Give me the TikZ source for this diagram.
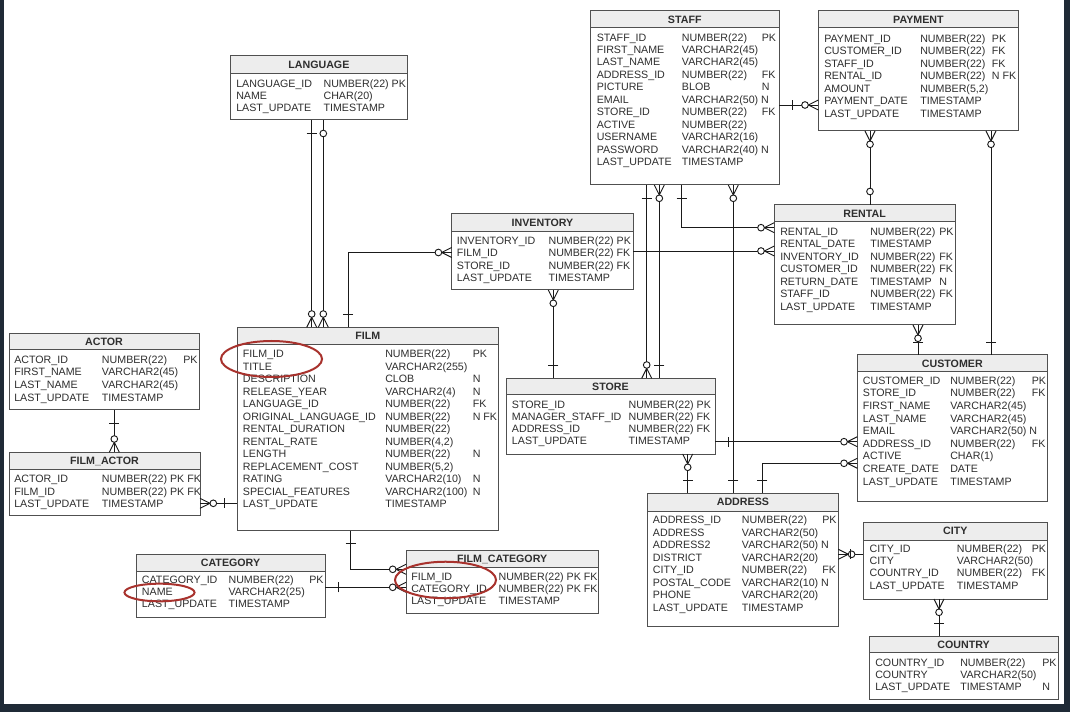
\documentclass[tikz,border=0pt]{standalone}
\usepackage{fontspec}
\setmainfont{Liberation Sans}
\usetikzlibrary{calc}
\definecolor{framec}{HTML}{1F2A36}
\definecolor{txtc}{HTML}{2E2E2E}
\definecolor{boxc}{HTML}{505050}
\definecolor{titlef}{HTML}{EDEDED}
\definecolor{conc}{HTML}{1A1A1A}
\definecolor{markc}{HTML}{A8322D}
\tikzset{
  tbox/.style={draw=boxc, line width=0.75pt, inner sep=0pt, outer sep=0pt, rectangle, anchor=north west},
  ttitle/.style={font=\fontsize{8}{9}\selectfont\bfseries, text=txtc, inner sep=0pt, anchor=base},
  cell/.style={font=\fontsize{8}{9}\selectfont, text=txtc, inner sep=0pt, anchor=base west},
  conn/.style={draw=conc, line width=0.7pt},
  markring/.style={draw=markc, line width=1.5pt},
}
% #1 name, #2 x1, #3 y1, #4 x2, #5 y2, #6 title line y, #7 title, #8 body
\newcommand\ertable[8]{%
  \fill[titlef] (#2,#3) rectangle (#4,#6);
  \begin{scope}\clip (#2,#3) rectangle (#4,#5); #8 \end{scope}
  \draw[draw=boxc, line width=0.75pt] (#2,#6) -- (#4,#6);
  \node[tbox, minimum width={(#4-#2)*0.75pt}, minimum height={(#5-#3)*0.75pt}] (#1) at (#2,#3) {};
  \node[ttitle] (#1-title) at ({(#2+#4)/2},{(#3+#6)/2+3.8}) {#7};
}
\newcommand\ercol[5]{\foreach \celltext [count=\rowi] in {#5}{\node[cell] (#1-\rowi) at (#2,{#3+(\rowi-1)*#4+3.8}) {\celltext};}}
\newcommand\ercolx[5]{\foreach \rowi/\celltext in {#5}{\node[cell] (#1-\rowi) at (#2,{#3+(\rowi-1)*#4+3.8}) {\celltext};}}
\newcommand\crowend[2]{\begin{scope}[shift={(#1)}, rotate=#2]
  \draw[conn] (0,5) -- (10,0) -- (0,-5);
  \draw[conn, fill=white] (13.3,0) circle[radius=2.5pt];
\end{scope}}
\newcommand\barend[2]{\begin{scope}[shift={(#1)}, rotate=#2]
  \draw[conn] (13,5) -- (13,-5);
\end{scope}}
\newcommand\circend[2]{\begin{scope}[shift={(#1)}, rotate=#2]
  \draw[conn, fill=white] (13.5,0) circle[radius=2.5pt];
\end{scope}}

\begin{document}
\begin{tikzpicture}[x=0.75pt,y=-0.75pt]
\useasboundingbox (0,0) rectangle (1070,712);
\fill[framec] (0,0) rectangle (1070,712);
\fill[white] (4,0) rectangle (1064,704);

% ---------- tables ----------
\ertable{staff}{590.5}{10.5}{779}{185}{28}{STAFF}{%
 \ercol{staff-a}{596.5}{37.3}{12.44}{STAFF\_ID,FIRST\_NAME,LAST\_NAME,ADDRESS\_ID,PICTURE,EMAIL,STORE\_ID,ACTIVE,USERNAME,PASSWORD,LAST\_UPDATE}
 \ercol{staff-b}{681.7}{37.3}{12.44}{NUMBER(22),VARCHAR2(45),VARCHAR2(45),NUMBER(22),BLOB,VARCHAR2(50) N,NUMBER(22),NUMBER(22),VARCHAR2(16),VARCHAR2(40) N,TIMESTAMP}
 \ercolx{staff-c}{761.5}{37.3}{12.44}{1/PK,4/FK,5/N,7/FK}}

\ertable{payment}{818.3}{11}{1018.5}{131}{28}{PAYMENT}{%
 \ercol{payment-a}{824}{38.3}{12.5}{PAYMENT\_ID,CUSTOMER\_ID,STAFF\_ID,RENTAL\_ID,AMOUNT,PAYMENT\_DATE,LAST\_UPDATE}
 \ercol{payment-b}{920}{38.3}{12.5}{NUMBER(22),NUMBER(22),NUMBER(22),NUMBER(22),{NUMBER(5,2)},TIMESTAMP,TIMESTAMP}
 \ercolx{payment-c}{991.7}{38.3}{12.5}{1/PK,2/FK,3/FK,4/{N FK}}}

\ertable{language}{230}{56}{407.7}{120}{73.3}{LANGUAGE}{%
 \ercol{language-a}{236}{83.3}{12}{LANGUAGE\_ID,NAME,LAST\_UPDATE}
 \ercol{language-b}{323.3}{83.3}{12}{NUMBER(22) PK,CHAR(20),TIMESTAMP}}

\ertable{inventory}{451.7}{214}{633.3}{290}{231.7}{INVENTORY}{%
 \ercol{inventory-a}{456.7}{240.7}{12.3}{INVENTORY\_ID,FILM\_ID,STORE\_ID,LAST\_UPDATE}
 \ercol{inventory-b}{548.3}{240.7}{12.3}{NUMBER(22) PK,NUMBER(22) FK,NUMBER(22) FK,TIMESTAMP}}

\ertable{rental}{774.3}{205}{955}{325}{221.7}{RENTAL}{%
 \ercol{rental-a}{780}{231.7}{12.5}{RENTAL\_ID,RENTAL\_DATE,INVENTORY\_ID,CUSTOMER\_ID,RETURN\_DATE,STAFF\_ID,LAST\_UPDATE}
 \ercol{rental-b}{870}{231.7}{12.5}{NUMBER(22),TIMESTAMP,NUMBER(22),NUMBER(22),TIMESTAMP,NUMBER(22),TIMESTAMP}
 \ercolx{rental-c}{939}{231.7}{12.5}{1/PK,3/FK,4/FK,5/N,6/FK}}

\ertable{film}{237.3}{327.3}{498.3}{530.7}{345}{FILM}{%
 \ercol{film-a}{242.7}{354}{12.5}{FILM\_ID,TITLE,DESCRIPTION,RELEASE\_YEAR,LANGUAGE\_ID,ORIGINAL\_LANGUAGE\_ID,RENTAL\_DURATION,RENTAL\_RATE,LENGTH,REPLACEMENT\_COST,RATING,SPECIAL\_FEATURES,LAST\_UPDATE}
 \ercol{film-b}{385}{354}{12.5}{NUMBER(22),VARCHAR2(255),CLOB,VARCHAR2(4),NUMBER(22),NUMBER(22),NUMBER(22),{NUMBER(4,2)},NUMBER(22),{NUMBER(5,2)},VARCHAR2(10),VARCHAR2(100),TIMESTAMP}
 \ercolx{film-c}{472.5}{354}{12.5}{1/PK,3/N,4/N,5/FK,6/{N FK},9/N,11/N,12/N}}

\ertable{actor}{9}{333.3}{199}{410}{350}{ACTOR}{%
 \ercol{actor-a}{14}{359.3}{12.67}{ACTOR\_ID,FIRST\_NAME,LAST\_NAME,LAST\_UPDATE}
 \ercol{actor-b}{101.7}{359.3}{12.67}{NUMBER(22),VARCHAR2(45),VARCHAR2(45),TIMESTAMP}
 \ercolx{actor-c}{183}{359.3}{12.67}{1/PK}}

\ertable{filmactor}{9}{452.3}{200}{515.7}{469}{FILM\_ACTOR}{%
 \ercol{filmactor-a}{14}{479}{12.2}{ACTOR\_ID,FILM\_ID,LAST\_UPDATE}
 \ercol{filmactor-b}{101.7}{479}{12.2}{NUMBER(22) PK FK,NUMBER(22) PK FK,TIMESTAMP}}

\ertable{store}{506}{378.3}{715}{454}{395}{STORE}{%
 \ercol{store-a}{511.7}{404.3}{12.2}{STORE\_ID,MANAGER\_STAFF\_ID,ADDRESS\_ID,LAST\_UPDATE}
 \ercol{store-b}{628.3}{404.3}{12.2}{NUMBER(22) PK,NUMBER(22) FK,NUMBER(22) FK,TIMESTAMP}}

\ertable{customer}{857.3}{355}{1047.3}{501.7}{371.7}{CUSTOMER}{%
 \ercol{customer-a}{862.7}{380.5}{12.6}{CUSTOMER\_ID,STORE\_ID,FIRST\_NAME,LAST\_NAME,EMAIL,ADDRESS\_ID,ACTIVE,CREATE\_DATE,LAST\_UPDATE}
 \ercol{customer-b}{950}{380.5}{12.6}{NUMBER(22),NUMBER(22),VARCHAR2(45),VARCHAR2(45),VARCHAR2(50) N,NUMBER(22),CHAR(1),DATE,TIMESTAMP}
 \ercolx{customer-c}{1031.5}{380.5}{12.6}{1/PK,2/FK,6/FK}}

\ertable{address}{647.5}{493.3}{838.3}{626.7}{511}{ADDRESS}{%
 \ercol{address-a}{652.7}{520}{12.5}{ADDRESS\_ID,ADDRESS,ADDRESS2,DISTRICT,CITY\_ID,POSTAL\_CODE,PHONE,LAST\_UPDATE}
 \ercol{address-b}{741.7}{520}{12.5}{NUMBER(22),VARCHAR2(50),VARCHAR2(50) N,VARCHAR2(20),NUMBER(22),VARCHAR2(10) N,VARCHAR2(20),TIMESTAMP}
 \ercolx{address-c}{822}{520}{12.5}{1/PK,5/FK}}

\ertable{city}{863.3}{522.3}{1047.3}{599}{540}{CITY}{%
 \ercol{city-a}{869.3}{548.3}{12.3}{CITY\_ID,CITY,COUNTRY\_ID,LAST\_UPDATE}
 \ercol{city-b}{956.7}{548.3}{12.3}{NUMBER(22),VARCHAR2(50),NUMBER(22),TIMESTAMP}
 \ercolx{city-c}{1031.5}{548.3}{12.3}{1/PK,3/FK}}

\ertable{country}{869.3}{636}{1058}{699.3}{652.7}{COUNTRY}{%
 \ercol{country-a}{875}{662.3}{12.2}{COUNTRY\_ID,COUNTRY,LAST\_UPDATE}
 \ercol{country-b}{960}{662.3}{12.2}{NUMBER(22),VARCHAR2(50),TIMESTAMP}
 \ercolx{country-c}{1042}{662.3}{12.2}{1/PK,3/N}}

\ertable{category}{136}{554}{325}{617.3}{571.7}{CATEGORY}{%
 \ercol{category-a}{141.7}{580}{12}{CATEGORY\_ID,NAME,LAST\_UPDATE}
 \ercol{category-b}{228.3}{580}{12}{NUMBER(22),VARCHAR2(25),TIMESTAMP}
 \ercolx{category-c}{309}{580}{12}{1/PK}}

\ertable{filmcat}{406}{550}{598.3}{613.3}{567.3}{FILM\_CATEGORY}{%
 \ercol{filmcat-a}{411}{576.7}{12}{FILM\_ID,CATEGORY\_ID,LAST\_UPDATE}
 \ercol{filmcat-b}{498.3}{576.7}{12}{NUMBER(22) PK FK,NUMBER(22) PK FK,TIMESTAMP}}

% ---------- connectors ----------
\draw[conn] (311.7,0 |- language.south) coordinate (r1a) -- (311.7,0 |- film.north) coordinate (r1b);
\draw[conn] (323.3,0 |- language.south) coordinate (r2a) -- (323.3,0 |- film.north) coordinate (r2b);
\draw[conn] (348,0 |- film.north) coordinate (r3a) -- (348,252.5) -- (inventory.west |- 0,252.5) coordinate (r3b);
\draw[conn] (inventory.east |- 0,251) coordinate (r4a) -- (rental.west |- 0,251) coordinate (r4b);
\draw[conn] (681.7,0 |- staff.south) coordinate (r5a) -- (681.7,227.7) -- (rental.west |- 0,227.7) coordinate (r5b);
\draw[conn] (646.7,0 |- staff.south) coordinate (r6a) -- (646.7,0 |- store.north) coordinate (r6b);
\draw[conn] (659.3,0 |- staff.south) coordinate (r7a) -- (659.3,0 |- store.north) coordinate (r7b);
\draw[conn] (733.3,0 |- staff.south) coordinate (r8a) -- (733.3,0 |- address.north) coordinate (r8b);
\draw[conn] (staff.east |- 0,105) coordinate (r9a) -- (payment.west |- 0,105) coordinate (r9b);
\draw[conn] (870,0 |- payment.south) coordinate (r10a) -- (870,0 |- rental.north) coordinate (r10b);
\draw[conn] (991,0 |- payment.south) coordinate (r11a) -- (991,0 |- customer.north) coordinate (r11b);
\draw[conn] (918,0 |- rental.south) coordinate (r12a) -- (918,0 |- customer.north) coordinate (r12b);
\draw[conn] (553.3,0 |- inventory.south) coordinate (r13a) -- (553.3,0 |- store.north) coordinate (r13b);
\draw[conn] (store.east |- 0,441.7) coordinate (r14a) -- (customer.west |- 0,441.7) coordinate (r14b);
\draw[conn] (687.7,0 |- store.south) coordinate (r15a) -- (687.7,0 |- address.north) coordinate (r15b);
\draw[conn] (customer.west |- 0,463.3) coordinate (r16a) -- (762.3,463.3) -- (762.3,0 |- address.north) coordinate (r16b);
\draw[conn] (address.east |- 0,554.3) coordinate (r17a) -- (city.west |- 0,554.3) coordinate (r17b);
\draw[conn] (939,0 |- city.south) coordinate (r18a) -- (939,0 |- country.north) coordinate (r18b);
\draw[conn] (114.3,0 |- actor.south) coordinate (r19a) -- (114.3,0 |- filmactor.north) coordinate (r19b);
\draw[conn] (filmactor.east |- 0,503.3) coordinate (r20a) -- (film.west |- 0,503.3) coordinate (r20b);
\draw[conn] (350.7,0 |- film.south) coordinate (r21a) -- (350.7,569.3) -- (filmcat.west |- 0,569.3) coordinate (r21b);
\draw[conn] (category.east |- 0,587.3) coordinate (r22a) -- (filmcat.west |- 0,587.3) coordinate (r22b);

% ---------- relationship ends ----------
\barend{r1a}{270}  \crowend{r1b}{90}
\circend{r2a}{270} \crowend{r2b}{90}
\barend{r3a}{90}   \crowend{r3b}{180}
\crowend{r4b}{180}
\barend{r5a}{270}  \crowend{r5b}{180}
\barend{r6a}{270}  \crowend{r6b}{90}
\crowend{r7a}{270} \barend{r7b}{90}
\crowend{r8a}{270} \barend{r8b}{90}
\barend{r9a}{0}    \crowend{r9b}{180}
\crowend{r10a}{270} \circend{r10b}{90}
\crowend{r11a}{270} \barend{r11b}{90}
\crowend{r12a}{270} \barend{r12b}{90}
\crowend{r13a}{270} \barend{r13b}{90}
\barend{r14a}{0}    \crowend{r14b}{180}
\crowend{r15a}{270} \barend{r15b}{90}
\crowend{r16a}{180} \barend{r16b}{90}
\crowend{r17a}{0}   \barend{r17b}{180}
\crowend{r18a}{270} \barend{r18b}{90}
\barend{r19a}{270}  \crowend{r19b}{90}
\crowend{r20a}{0}   \barend{r20b}{180}
\barend{r21a}{270}  \crowend{r21b}{180}
\barend{r22a}{0}    \crowend{r22b}{180}

% ---------- red annotation rings ----------
\draw[markring] (271.5,359) ellipse [x radius=37.9pt, y radius=13.5pt];
\draw[markring] (159.5,592.5) ellipse [x radius=26.3pt, y radius=6.6pt];
\draw[markring] (445.5,580) ellipse [x radius=37.9pt, y radius=13.7pt];
\end{tikzpicture}
\end{document}
